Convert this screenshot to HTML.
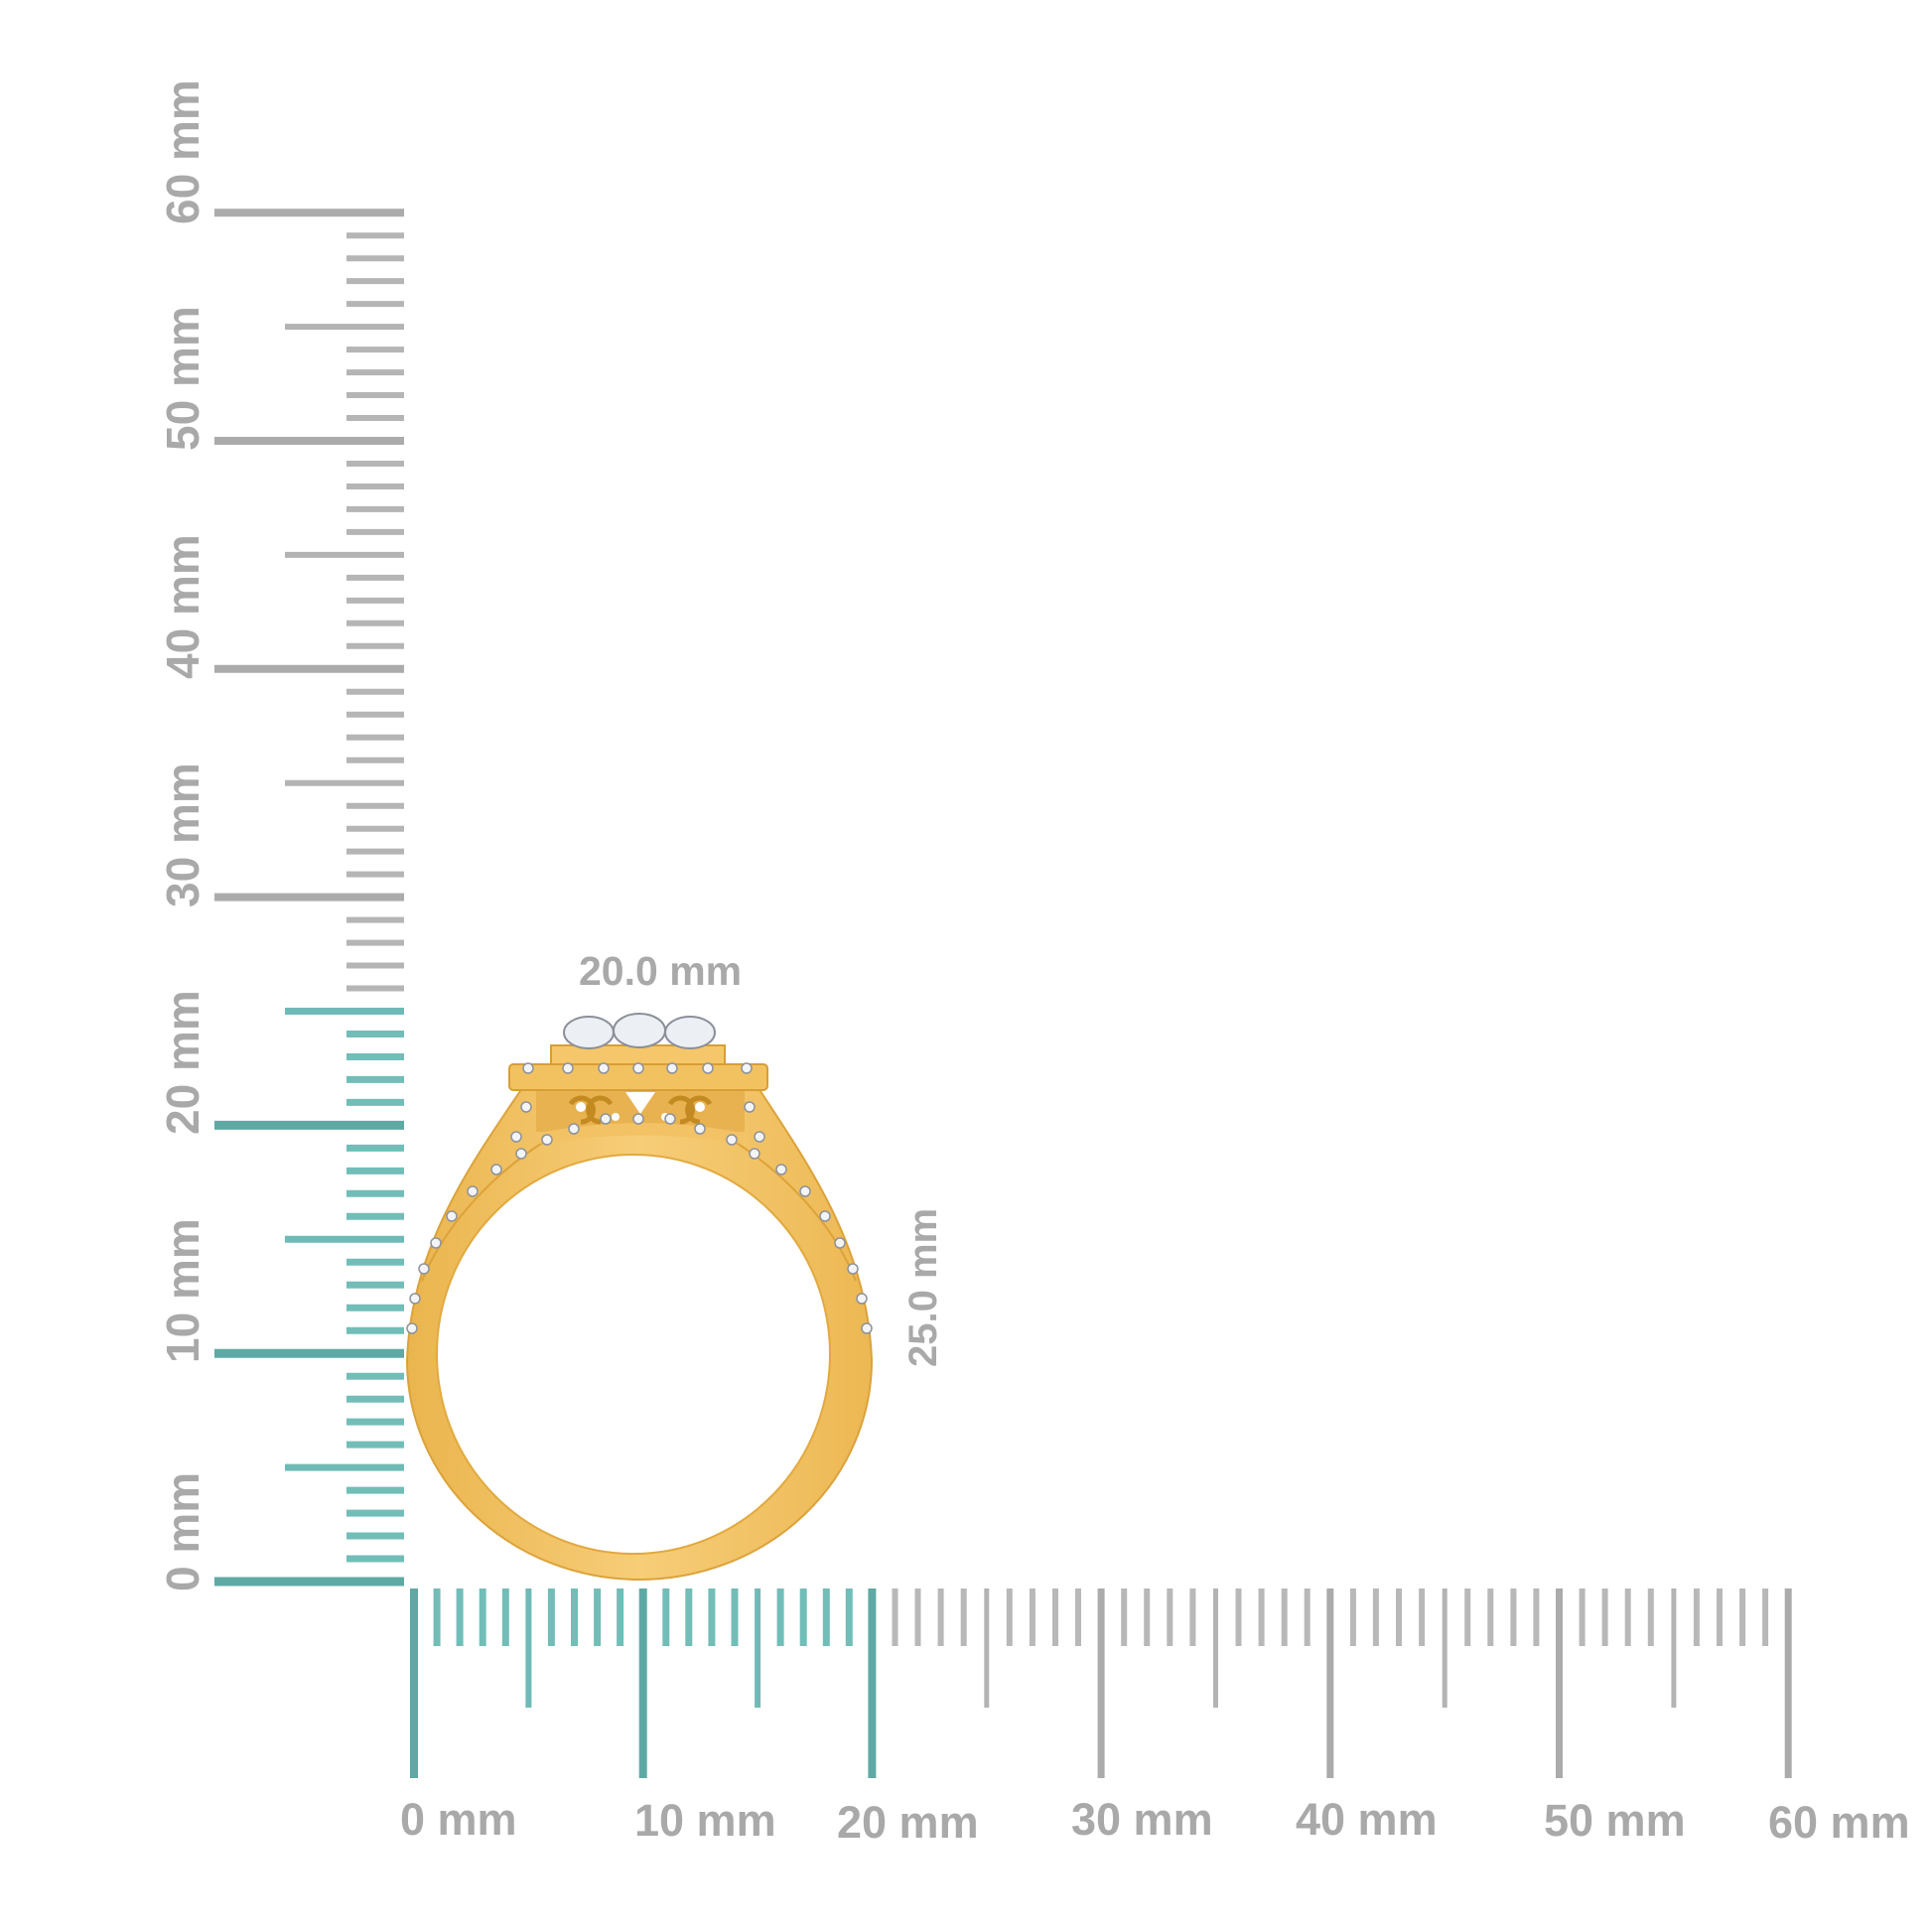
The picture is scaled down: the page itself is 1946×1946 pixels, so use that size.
<!DOCTYPE html>
<html><head><meta charset="utf-8"><style>
html,body{margin:0;padding:0;background:#fff;}
svg{display:block}
text{font-family:"Liberation Sans",Arial,sans-serif;font-weight:bold;fill:#a9a9a9;}
</style></head><body>
<svg width="1946" height="1946" viewBox="0 0 1946 1946" xmlns="http://www.w3.org/2000/svg">
<rect width="1946" height="1946" fill="#fff"/>
<!-- vertical ruler -->
<g fill="none">
<path stroke="#5fa9a5" stroke-width="9" d="M216 1593H407M216 1363.2H407M216 1133.4H407"/>
<path stroke="#6fbab6" stroke-width="7" d="M287 1478.1H407M287 1248.3H407M287 1018.5H407"/>
<path stroke="#72bdb8" stroke-width="7" d="M349 1570H407M349 1547H407M349 1524.1H407M349 1501.1H407M349 1455.1H407M349 1432.1H407M349 1409.2H407M349 1386.2H407M349 1340.2H407M349 1317.2H407M349 1294.3H407M349 1271.3H407M349 1225.3H407M349 1202.3H407M349 1179.4H407M349 1156.4H407M349 1110.4H407M349 1087.4H407M349 1064.5H407M349 1041.5H407"/>
<path stroke="#ababab" stroke-width="8" d="M216 903.6H407M216 673.8H407M216 444H407M216 214.2H407"/>
<path stroke="#b3b3b3" stroke-width="6" d="M287 788.7H407M287 558.9H407M287 329.1H407"/>
<path stroke="#b5b5b5" stroke-width="6" d="M349 995.5H407M349 972.5H407M349 949.6H407M349 926.6H407M349 880.6H407M349 857.6H407M349 834.7H407M349 811.7H407M349 765.7H407M349 742.7H407M349 719.8H407M349 696.8H407M349 650.8H407M349 627.8H407M349 604.9H407M349 581.9H407M349 535.9H407M349 512.9H407M349 490H407M349 467H407M349 421H407M349 398H407M349 375.1H407M349 352.1H407M349 306.1H407M349 283.1H407M349 260.2H407M349 237.2H407"/>
</g>
<!-- horizontal ruler -->
<g fill="none">
<path stroke="#5fa9a5" stroke-width="8" d="M417 1600V1791M647.7 1600V1791M878.4 1600V1791"/>
<path stroke="#6fbab6" stroke-width="6" d="M532.4 1600V1720M763.1 1600V1720"/>
<path stroke="#72bdb8" stroke-width="7" d="M440.1 1600V1658M463.1 1600V1658M486.2 1600V1658M509.3 1600V1658M555.4 1600V1658M578.5 1600V1658M601.6 1600V1658M624.6 1600V1658M670.8 1600V1658M693.8 1600V1658M716.9 1600V1658M740 1600V1658M786.1 1600V1658M809.2 1600V1658M832.3 1600V1658M855.3 1600V1658"/>
<path stroke="#ababab" stroke-width="7" d="M1109.1 1600V1791M1339.8 1600V1791M1570.5 1600V1791M1801.2 1600V1791"/>
<path stroke="#b3b3b3" stroke-width="5" d="M993.8 1600V1720M1224.5 1600V1720M1455.2 1600V1720M1685.9 1600V1720"/>
<path stroke="#b8b8b8" stroke-width="6" d="M901.5 1600V1658M924.5 1600V1658M947.6 1600V1658M970.7 1600V1658M1016.8 1600V1658M1039.9 1600V1658M1063 1600V1658M1086 1600V1658M1132.2 1600V1658M1155.2 1600V1658M1178.3 1600V1658M1201.4 1600V1658M1247.5 1600V1658M1270.6 1600V1658M1293.7 1600V1658M1316.7 1600V1658M1362.9 1600V1658M1385.9 1600V1658M1409 1600V1658M1432.1 1600V1658M1478.2 1600V1658M1501.3 1600V1658M1524.4 1600V1658M1547.4 1600V1658M1593.6 1600V1658M1616.6 1600V1658M1639.7 1600V1658M1662.8 1600V1658M1708.9 1600V1658M1732 1600V1658M1755.1 1600V1658M1778.1 1600V1658"/>
</g>
<!-- left labels -->
<g font-size="46">
<text transform="translate(200,1603) rotate(-90)">0 mm</text>
<text transform="translate(200,1373) rotate(-90)">10 mm</text>
<text transform="translate(200,1143) rotate(-90)">20 mm</text>
<text transform="translate(200,914) rotate(-90)">30 mm</text>
<text transform="translate(200,684) rotate(-90)">40 mm</text>
<text transform="translate(200,454) rotate(-90)">50 mm</text>
<text transform="translate(200,226) rotate(-90)">60 mm</text>
</g>
<!-- bottom labels -->
<g font-size="45">
<text x="403" y="1848">0 mm</text>
<text x="639" y="1849">10 mm</text>
<text x="843" y="1851">20 mm</text>
<text x="1079" y="1848">30 mm</text>
<text x="1305" y="1848">40 mm</text>
<text x="1555" y="1849">50 mm</text>
<text x="1781" y="1851">60 mm</text>
</g>
<text x="583" y="992" font-size="41" fill="#b5b5b5">20.0 mm</text>
<text transform="translate(943,1377) rotate(-90)" font-size="40" fill="#b5b5b5">25.0 mm</text>
<!-- ring -->
<defs>
<linearGradient id="g" x1="0" y1="0" x2="1" y2="0">
<stop offset="0" stop-color="#eab54e"/><stop offset="0.5" stop-color="#f7cd78"/><stop offset="1" stop-color="#ecb853"/>
</linearGradient>
</defs>
<path d="M526 1096 C 476 1170, 414 1255, 410 1370 A 234 221 0 0 0 878 1370 C 874 1255, 812 1170, 764 1096 Z" fill="url(#g)" stroke="#dca23a" stroke-width="2"/>
<ellipse cx="638" cy="1364" rx="198" ry="201" fill="#fff" stroke="#e2a93f" stroke-width="2"/>
<path d="M551 1148 C 500 1180, 450 1230, 425 1290" fill="none" stroke="#dca23a" stroke-width="2"/>
<path d="M737 1148 C 788 1180, 838 1230, 862 1290" fill="none" stroke="#dca23a" stroke-width="2"/>
<!-- gallery -->
<rect x="540" y="1096" width="210" height="44" fill="#e8b250"/>
<path d="M548 1140 Q645 1122 742 1140 L748 1152 Q645 1135 542 1152Z" fill="#f2c264"/>
<g fill="#fff">
<path d="M630 1100 L645 1122 L660 1100Z"/>
<circle cx="585" cy="1115" r="5"/><circle cx="705" cy="1115" r="5"/>
<circle cx="620" cy="1125" r="4"/><circle cx="670" cy="1125" r="4"/>
</g>
<g fill="none" stroke="#c48a22" stroke-width="5">
<path d="M575 1112 a12 12 0 1 1 10 18 M615 1112 a12 12 0 1 0 -10 18"/>
<path d="M675 1112 a12 12 0 1 1 10 18 M715 1112 a12 12 0 1 0 -10 18"/>
</g>
<!-- head -->
<rect x="513" y="1072" width="260" height="26" rx="4" fill="#f3c260" stroke="#d79e36" stroke-width="2"/>
<rect x="555" y="1053" width="175" height="19" fill="#f5c76a" stroke="#d79e36" stroke-width="2"/>
<g fill="#eceff3" stroke="#8a8f99" stroke-width="2">
<ellipse cx="593" cy="1040" rx="25" ry="16"/><ellipse cx="695" cy="1040" rx="25" ry="16"/><ellipse cx="644" cy="1038" rx="26" ry="17"/>
</g>
<g fill="#f3f4f6" stroke="#8d929b" stroke-width="1.5">
<circle cx="532" cy="1076" r="5"/><circle cx="572" cy="1076" r="5"/><circle cx="608" cy="1076" r="5"/><circle cx="643" cy="1076" r="5"/><circle cx="677" cy="1076" r="5"/><circle cx="713" cy="1076" r="5"/><circle cx="752" cy="1076" r="5"/>
<circle cx="578" cy="1137" r="5"/><circle cx="610" cy="1127" r="5"/><circle cx="643" cy="1127" r="5"/><circle cx="675" cy="1127" r="5"/><circle cx="705" cy="1137" r="5"/><circle cx="551" cy="1148" r="5"/><circle cx="737" cy="1148" r="5"/>
<circle cx="530" cy="1115" r="5"/><circle cx="520" cy="1145" r="5"/><circle cx="525" cy="1162" r="5"/><circle cx="500" cy="1178" r="5"/><circle cx="476" cy="1200" r="5"/><circle cx="455" cy="1225" r="5"/><circle cx="439" cy="1252" r="5"/><circle cx="427" cy="1278" r="5"/><circle cx="418" cy="1308" r="5"/><circle cx="415" cy="1338" r="5"/>
<circle cx="755" cy="1115" r="5"/><circle cx="765" cy="1145" r="5"/><circle cx="760" cy="1162" r="5"/><circle cx="787" cy="1178" r="5"/><circle cx="811" cy="1200" r="5"/><circle cx="831" cy="1225" r="5"/><circle cx="846" cy="1252" r="5"/><circle cx="859" cy="1278" r="5"/><circle cx="868" cy="1308" r="5"/><circle cx="873" cy="1338" r="5"/>
</g>
</svg>
</body></html>
